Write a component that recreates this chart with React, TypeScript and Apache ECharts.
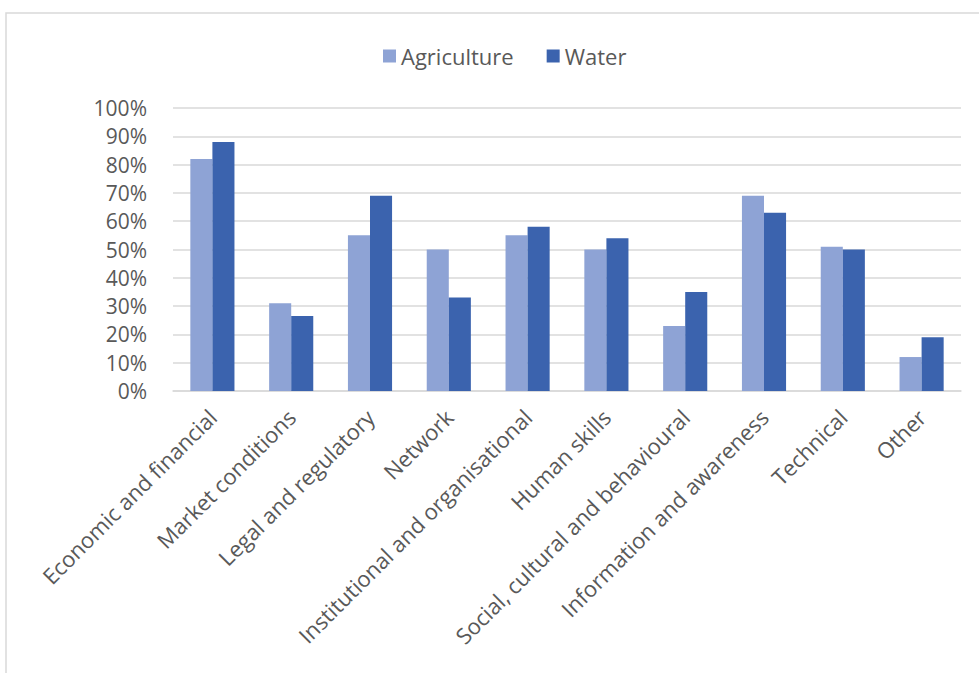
import React, { useEffect, useRef } from "react";
import * as echarts from "echarts";

const categories = [
  "Economic and financial",
  "Market conditions",
  "Legal and regulatory",
  "Network",
  "Institutional and organisational",
  "Human skills",
  "Social, cultural and behavioural",
  "Information and awareness",
  "Technical",
  "Other",
];
const agriculture = [0.82, 0.31, 0.55, 0.5, 0.55, 0.5, 0.23, 0.69, 0.51, 0.12];
const water = [0.88, 0.265, 0.69, 0.33, 0.58, 0.54, 0.35, 0.63, 0.5, 0.19];
const seriesNames = ["Agriculture", "Water"];

const FONT = "'Open Sans', sans-serif";
const TEXT = "#595959";

export default function App() {
  const ref = useRef<HTMLDivElement>(null);
  useEffect(() => {
    if (!ref.current) return;
    const chart = echarts.init(ref.current, null, { renderer: "svg" });
    chart.setOption({
      animation: false,
      backgroundColor: "#ffffff",
      textStyle: { fontFamily: FONT },
      graphic: [
        {
          type: "rect",
          shape: { x: 6, y: 13, width: 1000, height: 700 },
          style: { fill: "none", stroke: "#d9d9d9", lineWidth: 1.5 },
          silent: true,
        },
      ],
      legend: {
        left: 378,
        top: 40,
        itemWidth: 13,
        itemHeight: 13,
        itemGap: 33,
        icon: "rect",
        textStyle: { color: TEXT, fontSize: 22, fontFamily: FONT },
        data: seriesNames,
      },
      grid: { left: 173, right: 18, top: 108, bottom: 282 },
      xAxis: {
        type: "category",
        data: categories,
        axisLine: { lineStyle: { color: "#d9d9d9", width: 1.5 } },
        axisTick: { show: false },
        axisLabel: {
          rotate: 45,
          interval: 0,
          margin: 22,
          color: TEXT,
          fontSize: 22,
          fontFamily: FONT,
        },
      },
      yAxis: {
        type: "value",
        min: 0,
        max: 1,
        interval: 0.1,
        axisLine: { show: false },
        axisTick: { show: false },
        splitLine: { lineStyle: { color: "#d9d9d9", width: 1.5 } },
        axisLabel: {
          margin: 26,
          color: TEXT,
          fontSize: 21,
          fontFamily: FONT,
          formatter: (v: number) => Math.round(v * 100) + "%",
        },
      },
      series: [
        {
          name: seriesNames[0],
          type: "bar",
          data: agriculture,
          barGap: "0%",
          barCategoryGap: "44%",
          itemStyle: { color: "#8EA3D5" },
        },
        {
          name: seriesNames[1],
          type: "bar",
          data: water,
          barGap: "0%",
          barCategoryGap: "44%",
          itemStyle: { color: "#3B63AE" },
        },
      ],
    });
    return () => chart.dispose();
  }, []);
  return (
    <div
      ref={ref}
      style={{ position: "fixed", left: 0, top: 0, width: 979, height: 673 }}
    />
  );
}
